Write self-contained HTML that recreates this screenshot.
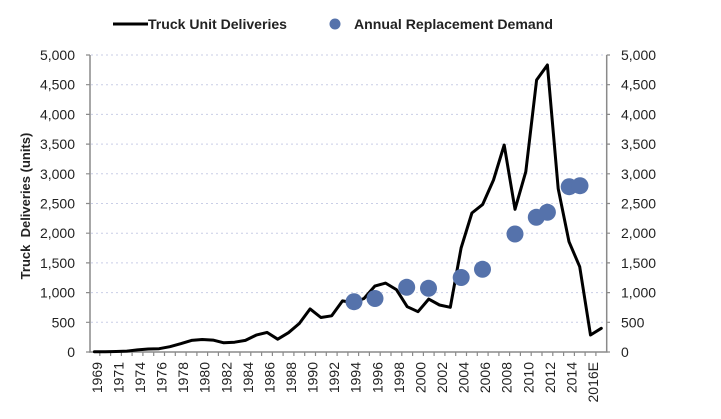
<!DOCTYPE html>
<html><head><meta charset="utf-8"><style>
html,body{margin:0;padding:0;background:#fff;}
svg{display:block;font-family:"Liberation Sans",sans-serif;}
</style></head><body>
<svg width="721" height="419" viewBox="0 0 721 419" xmlns="http://www.w3.org/2000/svg">
<rect width="721" height="419" fill="#fff"/>
<!-- gridlines -->
<g stroke="#c9cee6" stroke-width="1" stroke-dasharray="2,3">
<line x1="91" y1="55" x2="606" y2="55"/>
<line x1="91" y1="84.7" x2="606" y2="84.7"/>
<line x1="91" y1="114.4" x2="606" y2="114.4"/>
<line x1="91" y1="144.1" x2="606" y2="144.1"/>
<line x1="91" y1="173.8" x2="606" y2="173.8"/>
<line x1="91" y1="203.5" x2="606" y2="203.5"/>
<line x1="91" y1="233.2" x2="606" y2="233.2"/>
<line x1="91" y1="262.9" x2="606" y2="262.9"/>
<line x1="91" y1="292.6" x2="606" y2="292.6"/>
<line x1="91" y1="322.3" x2="606" y2="322.3"/>
</g>
<!-- axes -->
<g stroke="#8a8a8a" stroke-width="1.5" fill="none">
<line x1="90" y1="55" x2="90" y2="352.5"/>
<line x1="606.7" y1="55" x2="606.7" y2="352.5"/>
<line x1="89" y1="352" x2="607.5" y2="352"/>
</g>
<g stroke="#8a8a8a" stroke-width="1.2">
<path d="M86 55H90M86 84.7H90M86 114.4H90M86 144.1H90M86 173.8H90M86 203.5H90M86 233.2H90M86 262.9H90M86 292.6H90M86 322.3H90M86 352H90"/>
<path d="M606.7 55H610M606.7 84.7H610M606.7 114.4H610M606.7 144.1H610M606.7 173.8H610M606.7 203.5H610M606.7 233.2H610M606.7 262.9H610M606.7 292.6H610M606.7 322.3H610M606.7 352H610"/>
<path d="M99.8 352V356M110.6 352V356M121.4 352V356M132.1 352V356M142.9 352V356M153.7 352V356M164.5 352V356M175.3 352V356M186.1 352V356M196.9 352V356M207.6 352V356M218.4 352V356M229.2 352V356M240 352V356M250.8 352V356M261.6 352V356M272.4 352V356M283.1 352V356M293.9 352V356M304.7 352V356M315.5 352V356M326.3 352V356M337.1 352V356M347.9 352V356M358.6 352V356M369.4 352V356M380.2 352V356M391 352V356M401.8 352V356M412.6 352V356M423.4 352V356M434.1 352V356M444.9 352V356M455.7 352V356M466.5 352V356M477.3 352V356M488.1 352V356M498.9 352V356M509.6 352V356M520.4 352V356M531.2 352V356M542 352V356M552.8 352V356M563.6 352V356M574.4 352V356M585.1 352V356M595.9 352V356"/>
</g>
<!-- left labels -->
<g font-size="14" fill="#222" text-anchor="end">
<text x="75" y="60">5,000</text>
<text x="75" y="89.7">4,500</text>
<text x="75" y="119.4">4,000</text>
<text x="75" y="149.1">3,500</text>
<text x="75" y="178.8">3,000</text>
<text x="75" y="208.5">2,500</text>
<text x="75" y="238.2">2,000</text>
<text x="75" y="267.9">1,500</text>
<text x="75" y="297.6">1,000</text>
<text x="75" y="327.3">500</text>
<text x="75" y="357">0</text>
</g>
<g font-size="14" fill="#222" text-anchor="start">
<text x="621" y="60">5,000</text>
<text x="621" y="89.7">4,500</text>
<text x="621" y="119.4">4,000</text>
<text x="621" y="149.1">3,500</text>
<text x="621" y="178.8">3,000</text>
<text x="621" y="208.5">2,500</text>
<text x="621" y="238.2">2,000</text>
<text x="621" y="267.9">1,500</text>
<text x="621" y="297.6">1,000</text>
<text x="621" y="327.3">500</text>
<text x="621" y="357">0</text>
</g>
<text transform="translate(30 206) rotate(-90)" text-anchor="middle" font-size="13" font-weight="bold" fill="#222" xml:space="preserve">Truck  Deliveries (units)</text>
<!-- x labels -->
<g font-size="14" fill="#222" text-anchor="end">
<text transform="translate(102 362) rotate(-90)">1969</text>
<text transform="translate(123.5 362) rotate(-90)">1971</text>
<text transform="translate(145 362) rotate(-90)">1974</text>
<text transform="translate(166.6 362) rotate(-90)">1976</text>
<text transform="translate(188.2 362) rotate(-90)">1978</text>
<text transform="translate(209.7 362) rotate(-90)">1980</text>
<text transform="translate(231.3 362) rotate(-90)">1982</text>
<text transform="translate(252.9 362) rotate(-90)">1984</text>
<text transform="translate(274.5 362) rotate(-90)">1986</text>
<text transform="translate(296 362) rotate(-90)">1988</text>
<text transform="translate(317.6 362) rotate(-90)">1990</text>
<text transform="translate(339.2 362) rotate(-90)">1992</text>
<text transform="translate(360.7 362) rotate(-90)">1994</text>
<text transform="translate(382.3 362) rotate(-90)">1996</text>
<text transform="translate(403.9 362) rotate(-90)">1998</text>
<text transform="translate(425.5 362) rotate(-90)">2000</text>
<text transform="translate(447 362) rotate(-90)">2002</text>
<text transform="translate(468.6 362) rotate(-90)">2004</text>
<text transform="translate(490.2 362) rotate(-90)">2006</text>
<text transform="translate(511.7 362) rotate(-90)">2008</text>
<text transform="translate(533.3 362) rotate(-90)">2010</text>
<text transform="translate(554.9 362) rotate(-90)">2012</text>
<text transform="translate(576.5 362) rotate(-90)">2014</text>
<text transform="translate(598 362) rotate(-90)">2016E</text>
</g>
<!-- line series -->
<polyline fill="none" stroke="#000" stroke-width="3" stroke-linejoin="round" stroke-linecap="round" points="94.4,351.7 105.2,351.7 116,351.5 126.8,351.1 137.5,349.9 148.3,349 159.1,348.7 169.9,346.7 180.7,343.7 191.5,340.4 202.2,339.5 213,340.1 223.8,342.8 234.6,342.2 245.4,340.4 256.2,335.1 267,332.4 277.7,339.2 288.5,332.7 299.3,323.5 310.1,308.9 320.9,317.5 331.7,315.8 342.5,300.9 353.2,302.7 364,298.5 374.8,286.1 385.6,283.1 396.4,289.6 407.2,306.7 418,311.7 428.7,299.1 439.5,305 450.3,307.3 461.1,248 471.9,213 482.7,204.4 493.5,180 504.2,145 515,209.3 525.8,171.7 536.6,80 547.4,65 558.2,188.7 569,241.7 579.7,266.7 590.5,335 601.3,328.3"/>
<!-- dots -->
<g fill="#5572ab">
<circle cx="354" cy="301.7" r="8.5"/>
<circle cx="375" cy="298.5" r="8.5"/>
<circle cx="406.7" cy="287.3" r="8.5"/>
<circle cx="428.5" cy="288.3" r="8.5"/>
<circle cx="461.2" cy="277.5" r="8.5"/>
<circle cx="482.5" cy="269.3" r="8.5"/>
<circle cx="515" cy="234" r="8.5"/>
<circle cx="536.3" cy="217.3" r="8.5"/>
<circle cx="547.4" cy="212.3" r="8.5"/>
<circle cx="569.2" cy="186.7" r="8.5"/>
<circle cx="580" cy="185.7" r="8.5"/>
</g>
<!-- legend -->
<line x1="113" y1="24" x2="148" y2="24" stroke="#000" stroke-width="3"/>
<text x="148" y="29" font-size="14" font-weight="bold" fill="#222" textLength="139" lengthAdjust="spacingAndGlyphs">Truck Unit Deliveries</text>
<circle cx="335" cy="24" r="5.5" fill="#5572ab"/>
<text x="354" y="29" font-size="14" font-weight="bold" fill="#222" textLength="199" lengthAdjust="spacingAndGlyphs">Annual Replacement Demand</text>
</svg>
</body></html>
